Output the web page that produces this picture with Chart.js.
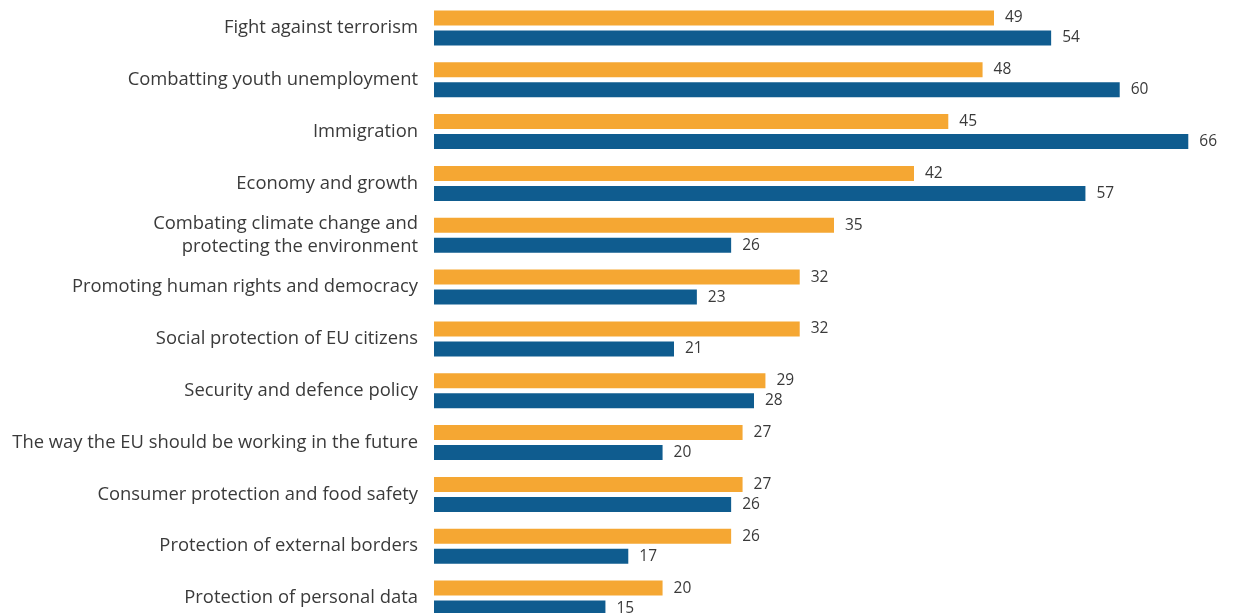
<!DOCTYPE html>
<html>
<head>
<meta charset="utf-8">
<script src="https://cdn.jsdelivr.net/npm/chart.js@4"></script>
<style>
  html, body { margin: 0; padding: 0; background: #fff; overflow: hidden; }
  #wrap { width: 1234px; height: 625px; }
</style>
</head>
<body>
<div id="wrap"><canvas id="chart" width="1234" height="625"></canvas></div>
<script>
/* ===================== DATA ===================== */

const CATEGORIES = [
  "Fight against terrorism",
  "Combatting youth unemployment",
  "Immigration",
  "Economy and growth",
  ["Combating climate change and", "protecting the environment"],
  "Promoting human rights and democracy",
  "Social protection of EU citizens",
  "Security and defence policy",
  "The way the EU should be working in the future",
  "Consumer protection and food safety",
  "Protection of external borders",
  "Protection of personal data"
];

const SERIES_ORANGE = [49, 48, 45, 42, 35, 32, 32, 29, 27, 27, 26, 20];
const SERIES_BLUE   = [54, 60, 66, 57, 26, 23, 21, 28, 20, 26, 17, 15];

const ORANGE = "#F5A733";
const BLUE = "#0F5C8F";
const TEXT = "#3a3a3a";

/* ===================== VALUE LABELS ===================== */

const valueLabels = {
  id: "valueLabels",
  afterDatasetsDraw(chart) {
    const ctx = chart.ctx;
    ctx.save();
    ctx.font = "15.5px 'Open Sans'";
    ctx.fillStyle = TEXT;
    ctx.textAlign = "left";
    ctx.textBaseline = "middle";
    chart.data.datasets.forEach((ds, di) => {
      chart.getDatasetMeta(di).data.forEach((bar, i) => {
        ctx.fillText(String(ds.data[i]), bar.x + 11, bar.y);
      });
    });
    ctx.restore();
  }
};

/* ===================== CHART ===================== */

new Chart(document.getElementById("chart"), {
  type: "bar",
  data: {
    labels: CATEGORIES,
    datasets: [
      { data: SERIES_ORANGE, backgroundColor: ORANGE },
      { data: SERIES_BLUE, backgroundColor: BLUE }
    ]
  },
  options: {
    indexAxis: "y",
    responsive: false,
    animation: false,
    categoryPercentage: 0.772,
    barPercentage: 0.75,
    layout: { padding: { top: 2, bottom: 1, left: 0, right: 0 } },
    plugins: { legend: { display: false }, tooltip: { enabled: false } },
    scales: {
      x: {
        min: 0, max: 70,
        display: false
      },
      y: {
        grid: { display: false, drawTicks: false },
        border: { display: false },
        afterFit(scale) {
          scale.width = 434;
          scale.paddingTop = 0;
          scale.paddingBottom = 0;
        },
        ticks: {
          autoSkip: false,
          padding: 16,
          color: TEXT,
          font: { family: "'Open Sans'", size: 18.4, lineHeight: 1.25 }
        }
      }
    }
  },
  plugins: [valueLabels]
});
</script>
</body>
</html>
